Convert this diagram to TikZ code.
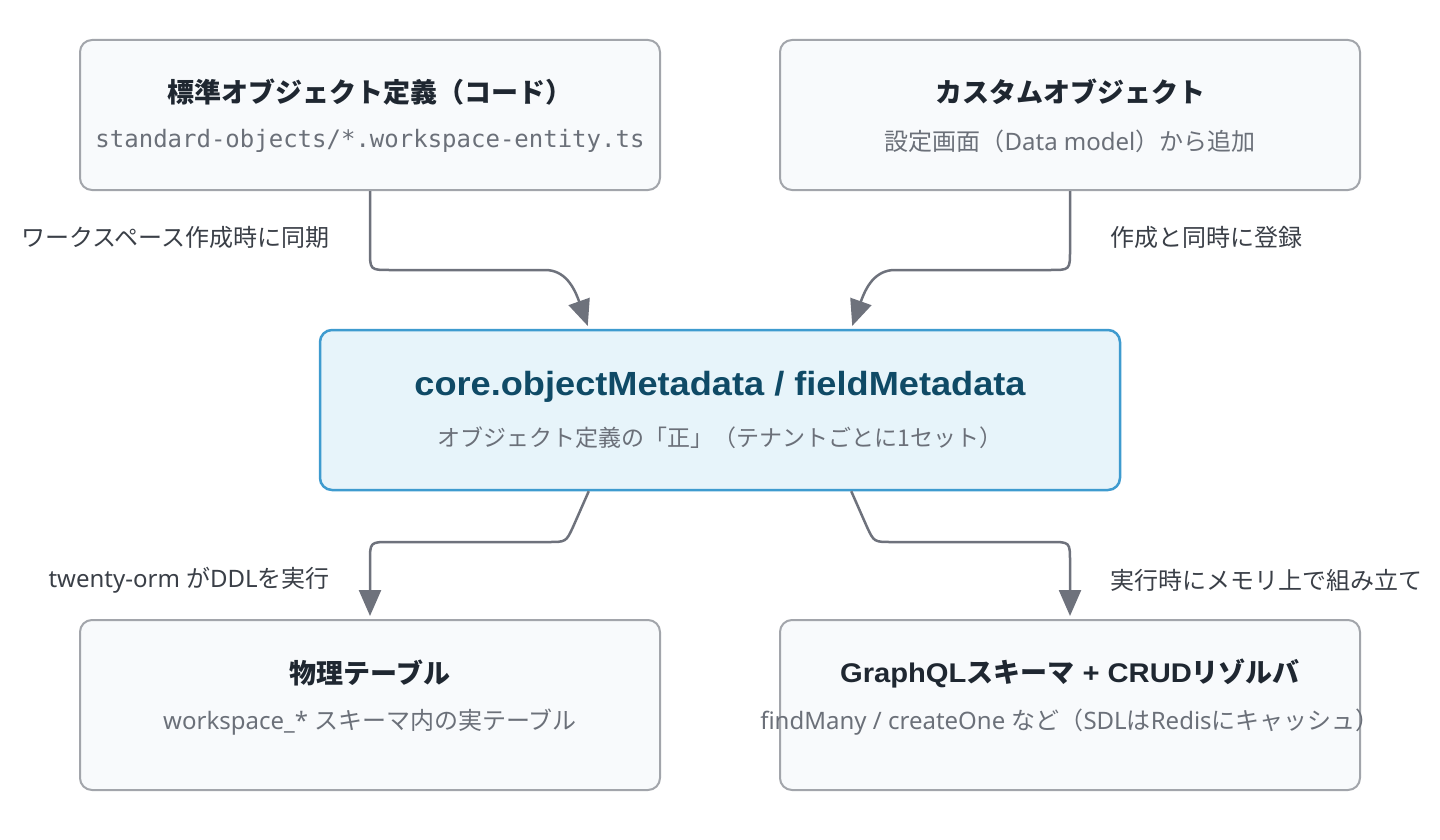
\documentclass[tikz,border=0pt]{standalone}
\usepackage{fontspec}
\setmainfont{Noto Sans CJK JP}
\setmonofont{DejaVu Sans Mono}
\newfontfamily\lat{Noto Sans}
\newfontfamily\latb{Liberation Sans}[FakeStretch=1.08]
\usetikzlibrary{arrows.meta}
\definecolor{boxfill}{HTML}{F8FAFC}
\definecolor{boxline}{HTML}{A2A5AB}
\definecolor{cfill}{HTML}{E7F4FA}
\definecolor{cline}{HTML}{3E9BCF}
\definecolor{ttlcol}{HTML}{1F2731}
\definecolor{ctlcol}{HTML}{0F4A66}
\definecolor{subcol}{HTML}{6B7079}
\definecolor{lblcol}{HTML}{3A3F47}
\definecolor{conncol}{HTML}{6E727C}
\tikzset{
  box/.style={draw=boxline, fill=boxfill, line width=2, rounded corners=12,
    minimum width=580, minimum height=150, inner sep=0},
  cbox/.style={draw=cline, fill=cfill, line width=2.5, rounded corners=12,
    minimum width=800, minimum height=160, inner sep=0},
  ttl/.style={inner sep=0, text=ttlcol, font=\fontsize{27}{31}\selectfont\bfseries},
  ctl/.style={inner sep=0, text=ctlcol, font=\fontsize{33.5}{37}\selectfont\bfseries},
  sub/.style={inner sep=0, text=subcol, font=\fontsize{24}{28}\selectfont},
  csub/.style={inner sep=0, text=subcol, font=\fontsize{23}{27}\selectfont},
  mono/.style={inner sep=0, text=subcol, font=\fontsize{24}{28}\selectfont\ttfamily},
  lbl/.style={inner sep=0, text=lblcol, font=\fontsize{24}{28}\selectfont},
  conn/.style={draw=conncol, line width=2.5, -{Triangle[length=26,width=22]}, shorten >=3}
}
\begin{document}
\begin{tikzpicture}[x=1pt,y=-1pt]
\useasboundingbox (0,0) rectangle (1440,840);
% boxes
\node[box] (tl) at (370,115) {};
\node[box] (tr) at (1070,115) {};
\node[cbox] (c) at (720,410) {};
\node[box, minimum height=170] (bl) at (370,705) {};
\node[box, minimum height=170] (br) at (1070,705) {};
% texts
\node[ttl] (tlt) at (370,92) {標準オブジェクト定義（コード）};
\node[mono] (tls) at (370,141) {standard-objects/*.workspace-entity.ts};
\node[ttl] (trt) at (1070,92) {カスタムオブジェクト};
\node[sub] (trs) at (1070,141) {設定画面（{\lat Data model}）から追加};
\node[ctl] (ct) at (720,387) {{\latb core.objectMetadata / fieldMetadata}};
\node[csub] (cs) at (720,438) {オブジェクト定義の「正」（テナントごとに1セット）};
\node[ttl] (blt) at (370,673) {物理テーブル};
\node[sub] (bls) at (370,722) {{\lat workspace\_* }スキーマ内の実テーブル};
\node[ttl] (brt) at (1070,673) {{\latb GraphQL}スキーマ{\latb{} + CRUD}リゾルバ};
\node[sub] (brs) at (1070,722) {{\lat findMany / createOne }など（{\lat SDL}は{\lat Redis}にキャッシュ）};
% connectors
\draw[conn] (tl.south) -- (370,250) .. controls (370,270) .. (390,270) -- (545,270)
  .. controls (565,270) and (574,287) .. ([xshift=270]c.north west);
\draw[conn] (tr.south) -- (1070,250) .. controls (1070,270) .. (1050,270) -- (895,270)
  .. controls (875,270) and (866,287) .. ([xshift=-270]c.north east);
\draw[conn] ([xshift=270]c.south west) -- (573,527) .. controls (566,542) .. (548,542)
  -- (390,542) .. controls (370,542) .. (370,562) -- (bl.north);
\draw[conn] ([xshift=-270]c.south east) -- (867,527) .. controls (874,542) .. (892,542)
  -- (1050,542) .. controls (1070,542) .. (1070,562) -- (br.north);
% labels
\node[lbl, anchor=east] (l1) at (330,237) {ワークスペース作成時に同期};
\node[lbl, anchor=west] (l2) at (1110,237) {作成と同時に登録};
\node[lbl, anchor=east] (l3) at (330,580) {{\lat twenty-orm }が{\lat DDL}を実行};
\node[lbl, anchor=west] (l4) at (1110,580) {実行時にメモリ上で組み立て};
\end{tikzpicture}
\end{document}
